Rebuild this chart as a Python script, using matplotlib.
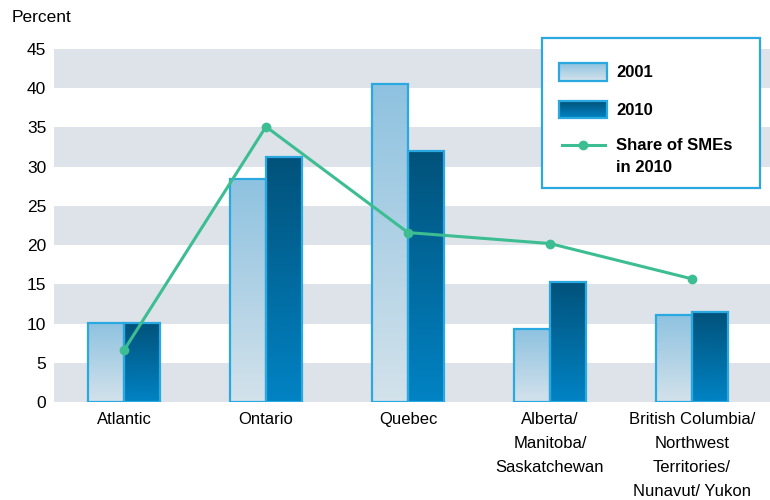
import numpy as np
import matplotlib
matplotlib.use("Agg")
import matplotlib.pyplot as plt
from matplotlib.patches import Rectangle
from matplotlib.lines import Line2D
from matplotlib.legend_handler import HandlerBase
from matplotlib.colors import LinearSegmentedColormap, to_rgb

plt.rcParams['font.family'] = ['Liberation Sans Narrow', 'Liberation Sans', 'DejaVu Sans']

regions = ["Atlantic", "Ontario", "Quebec", "Alberta/\nManitoba/\nSaskatchewan",
           "British Columbia/\nNorthwest\nTerritories/\nNunavut/ Yukon"]
share_2001 = [10.1, 28.4, 40.5, 9.3, 11.1]
share_2010 = [10.1, 31.2, 32.0, 15.3, 11.5]
sme_share_2010 = [6.6, 35.1, 21.6, 20.2, 15.7]

EDGE = "#2aa9e0"
LINE = "#3dbd92"
BAND = "#dde3e9"
# top colour -> bottom colour
GRAD_2001 = ("#8ec2e0", "#d3e2eb")
GRAD_2010 = ("#01527a", "#0183c4")


def gradient_bar(ax, x0, width, height, colors):
    cmap = LinearSegmentedColormap.from_list("g", [colors[1], colors[0]])
    grad = np.linspace(0, 1, 256).reshape(-1, 1)
    ax.imshow(grad, cmap=cmap, origin="lower", aspect="auto",
              extent=(x0, x0 + width, 0, height), zorder=2,
              interpolation="bicubic")
    ax.add_patch(Rectangle((x0, 0), width, height, fill=False,
                           edgecolor=EDGE, linewidth=1.6, zorder=3))


class GradientHandler(HandlerBase):
    """Legend swatch drawn as a stack of thin strips."""

    def __init__(self, colors):
        super().__init__()
        self.colors = colors

    def create_artists(self, legend, orig_handle, xdescent, ydescent,
                       width, height, fontsize, trans):
        arts = []
        n = 30
        top, bot = np.array(to_rgb(self.colors[0])), np.array(to_rgb(self.colors[1]))
        y0 = -ydescent
        for i in range(n):
            t = i / (n - 1)
            c = bot * (1 - t) + top * t
            arts.append(Rectangle((-xdescent, y0 + height * i / n), width,
                                  height / n + 0.3, facecolor=c,
                                  edgecolor="none", transform=trans))
        arts.append(Rectangle((-xdescent, y0), width, height, fill=False,
                              edgecolor=EDGE, linewidth=1.6, transform=trans))
        return arts


class TopLineHandler(HandlerBase):
    """Line-with-marker swatch lifted to sit beside the first text line."""

    def __init__(self, lift):
        super().__init__()
        self.lift = lift

    def create_artists(self, legend, orig_handle, xdescent, ydescent,
                       width, height, fontsize, trans):
        y = height / 2 - ydescent + self.lift
        ln = Line2D([-xdescent + 2, -xdescent + width - 2], [y, y],
                    color=LINE, linewidth=2.2, transform=trans)
        mk = Line2D([-xdescent + width / 2], [y], color=LINE, marker="o",
                    markersize=6, linestyle="none", transform=trans)
        return [ln, mk]


fig = plt.figure(figsize=(7.7, 5), dpi=100)
ax = fig.add_axes([54 / 770, 0.196, 1 - 54 / 770, 0.706])

x = np.arange(len(regions))
bw = 0.254

for lo in range(0, 45, 10):
    ax.axhspan(lo, lo + 5, color=BAND, zorder=0, linewidth=0)

for i in x:
    gradient_bar(ax, i - bw, bw, share_2001[i], GRAD_2001)
    gradient_bar(ax, i, bw, share_2010[i], GRAD_2010)

ax.plot(x, sme_share_2010, color=LINE, linewidth=2.2, marker="o",
        markersize=6, zorder=4)

ax.set_xlim(-0.493, 4.55)
ax.set_ylim(0, 45)
ax.set_yticks(range(0, 46, 5))
ax.set_xticks(x)
ax.set_xticklabels(regions, fontsize=12, linespacing=1.75, va="top")
ax.tick_params(axis="y", labelsize=12.5, length=0, pad=5.5)
ax.tick_params(axis="x", length=0, pad=7)
for s in ax.spines.values():
    s.set_visible(False)

fig.text(12 / 770, 1 - 18 / 500, "Percent", fontsize=12.5, va="center", ha="left")

# legend box drawn separately so the padding can be uneven
fig.add_artist(Rectangle((542 / 770, 1 - 188 / 500), 218 / 770, 150 / 500,
                         transform=fig.transFigure, facecolor="white",
                         edgecolor=EDGE, linewidth=1.6, zorder=5))

h2001 = Rectangle((0, 0), 1, 1)
h2010 = Rectangle((0, 0), 1, 1)
hline = Line2D([], [])
leg = fig.legend([h2001, h2010, hline], ["2001", "2010", "Share of SMEs\nin 2010"],
                 handler_map={h2001: GradientHandler(GRAD_2001),
                              h2010: GradientHandler(GRAD_2010),
                              hline: TopLineHandler(9)},
                 loc="upper left",
                 bbox_to_anchor=(559 / 770, 1 - 63 / 500),
                 borderaxespad=0, borderpad=0, frameon=False,
                 prop={"weight": "bold", "size": 12},
                 handlelength=2.9, handleheight=1.25, labelspacing=1.2,
                 handletextpad=0.55)
leg.set_zorder(6)
for t in leg.get_texts():
    t.set_linespacing(1.6)

fig.savefig("out.png", dpi=100)
